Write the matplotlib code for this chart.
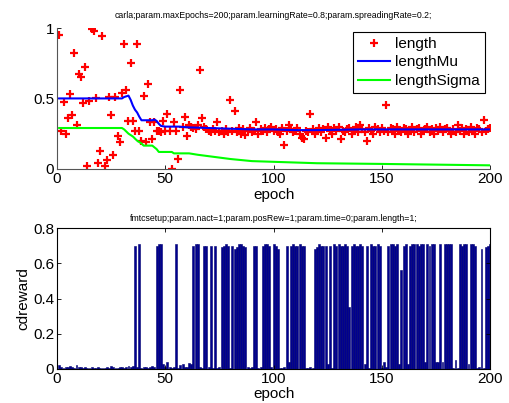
import numpy as np
import matplotlib
matplotlib.use('Agg')
from matplotlib import pyplot as plt

plt.rcParams['font.family'] = ['Liberation Sans', 'DejaVu Sans']

# epochs 1..200
epochs = list(range(1, 201))

# top: sampled length per epoch
length = [
    0.95, 0.27, 0.475, 0.25, 0.36, 0.53, 0.38, 0.82, 0.31, 0.67,
    0.65, 0.47, 0.72, 0.02, 0.48, 0.99, 0.98, 0.50, 0.04, 0.13,
    0.94, 0.02, 0.06, 0.51, 0.38, 0.10, 0.51, 0.23, 0.19, 0.54,
    0.89, 0.56, 0.34, 0.75, 0.34, 0.27, 0.89, 0.27, 0.20, 0.52,
    0.19, 0.60, 0.33, 0.21, 0.33, 0.27, 0.27, 0.26, 0.34, 0.27,
    0.39, 0.27, 0.00, 0.33, 0.27, 0.07, 0.56, 0.30, 0.37, 0.23,
    0.31, 0.30, 0.29, 0.28, 0.31, 0.70, 0.36, 0.30, 0.28, 0.27,
    0.26, 0.28, 0.27, 0.33, 0.26, 0.27, 0.25, 0.28, 0.26, 0.49,
    0.27, 0.41, 0.26, 0.29, 0.25, 0.28, 0.24, 0.27, 0.29, 0.26,
    0.27, 0.33, 0.25, 0.28, 0.27, 0.29, 0.26, 0.28, 0.30, 0.27,
    0.28, 0.26, 0.25, 0.29, 0.17, 0.27, 0.31, 0.28, 0.26, 0.27,
    0.29, 0.25, 0.22, 0.21, 0.27, 0.26, 0.39, 0.28, 0.25, 0.27,
    0.29, 0.26, 0.28, 0.22, 0.30, 0.27, 0.25, 0.29, 0.27, 0.30,
    0.21, 0.27, 0.26, 0.28, 0.29, 0.25, 0.27, 0.30, 0.26, 0.31,
    0.28, 0.26, 0.20, 0.29, 0.27, 0.25, 0.30, 0.28, 0.26, 0.29,
    0.27, 0.45, 0.26, 0.29, 0.28, 0.25, 0.30, 0.27, 0.26, 0.29,
    0.28, 0.25, 0.27, 0.30, 0.26, 0.28, 0.29, 0.25, 0.27, 0.28,
    0.30, 0.26, 0.28, 0.25, 0.29, 0.27, 0.30, 0.26, 0.28, 0.29,
    0.27, 0.25, 0.28, 0.26, 0.31, 0.27, 0.29, 0.25, 0.28, 0.26,
    0.30, 0.27, 0.25, 0.29, 0.28, 0.26, 0.35, 0.27, 0.28, 0.29,
]

# lengthMu / lengthSigma vertices (epoch, value)
mu_epochs = [1, 30, 31, 33, 34, 35, 36, 37, 38, 39, 44, 45, 46, 47, 48, 50, 56, 60, 70, 80, 90, 100, 110, 120, 140, 160, 180, 200]
mu_values = [0.50, 0.50, 0.51, 0.52, 0.49, 0.45, 0.42, 0.40, 0.37, 0.345, 0.345, 0.35, 0.34, 0.32, 0.305, 0.30, 0.30, 0.295, 0.29, 0.285, 0.28, 0.28, 0.275, 0.275, 0.28, 0.28, 0.28, 0.28]

sigma_epochs = [1, 30, 31, 33, 35, 37, 39, 40, 44, 46, 47, 53, 54, 61, 65, 70, 80, 90, 100, 120, 150, 200]
sigma_values = [0.29, 0.29, 0.28, 0.25, 0.23, 0.20, 0.18, 0.165, 0.165, 0.14, 0.12, 0.12, 0.11, 0.11, 0.10, 0.09, 0.07, 0.055, 0.05, 0.04, 0.035, 0.025]

# bottom: cdreward per epoch
cdreward = [
    0.02, 0.01, 0.005, 0.01, 0.01, 0.015, 0.01, 0.005, 0.02, 0.01,
    0.01, 0.005, 0.01, 0.005, 0.005, 0.01, 0.005, 0.005, 0.01, 0.005,
    0.005, 0.005, 0.01, 0.005, 0.015, 0.01, 0.005, 0.005, 0.01, 0.01,
    0.005, 0.01, 0.015, 0.01, 0.015, 0.70, 0.01, 0.71, 0.005, 0.01,
    0.01, 0.005, 0.01, 0.015, 0.01, 0.70, 0.71, 0.71, 0.03, 0.01,
    0.04, 0.01, 0.005, 0.01, 0.71, 0.005, 0.02, 0.03, 0.01, 0.01,
    0.035, 0.03, 0.70, 0.71, 0.71, 0.01, 0.005, 0.70, 0.70, 0.01,
    0.70, 0.005, 0.70, 0.005, 0.01, 0.69, 0.70, 0.71, 0.70, 0.005,
    0.70, 0.68, 0.69, 0.71, 0.71, 0.70, 0.69, 0.01, 0.005, 0.01,
    0.70, 0.70, 0.005, 0.01, 0.70, 0.71, 0.71, 0.70, 0.01, 0.71,
    0.70, 0.68, 0.005, 0.005, 0.01, 0.70, 0.04, 0.70, 0.71, 0.70,
    0.70, 0.71, 0.70, 0.70, 0.005, 0.005, 0.01, 0.005, 0.68, 0.69,
    0.71, 0.70, 0.70, 0.70, 0.03, 0.70, 0.005, 0.71, 0.70, 0.71,
    0.70, 0.70, 0.71, 0.70, 0.35, 0.70, 0.71, 0.70, 0.70, 0.71,
    0.70, 0.03, 0.70, 0.005, 0.71, 0.70, 0.70, 0.71, 0.70, 0.005,
    0.04, 0.01, 0.70, 0.71, 0.71, 0.70, 0.71, 0.03, 0.56, 0.70,
    0.71, 0.03, 0.70, 0.71, 0.71, 0.71, 0.70, 0.71, 0.71, 0.04,
    0.71, 0.70, 0.71, 0.71, 0.04, 0.04, 0.71, 0.04, 0.71, 0.71,
    0.71, 0.71, 0.005, 0.05, 0.005, 0.71, 0.70, 0.71, 0.71, 0.03,
    0.71, 0.71, 0.70, 0.005, 0.01, 0.68, 0.005, 0.69, 0.70, 0.71,
]

top_title = 'carla;param.maxEpochs=200;param.learningRate=0.8;param.spreadingRate=0.2;'
bottom_title = 'fmtcsetup;param.nact=1;param.posRew=1;param.time=0;param.length=1;'

fig = plt.figure(figsize=(5.09, 4.03), dpi=100, facecolor='white')

# ---- top panel ----
ax1 = fig.add_axes([0.112, 0.581, 0.851, 0.3495])
ax1.plot(epochs, length, '+', color='#ff0000', markersize=5.5, markeredgewidth=1.6, label='length')
ax1.plot(mu_epochs, mu_values, color='#0000ff', lw=1.5, label='lengthMu')
ax1.plot(sigma_epochs, sigma_values, color='#00ff00', lw=1.5, label='lengthSigma')
ax1.set_xlim(0, 200)
ax1.set_ylim(0, 1)
ax1.set_xticks([0, 50, 100, 150, 200])
ax1.set_yticks([0, 0.5, 1])
ax1.set_yticklabels(['0', '0.5', '1'])
ax1.spines['top'].set_visible(False)
ax1.spines['right'].set_visible(False)
for s in ['left', 'bottom']:
    ax1.spines[s].set_color('#555555')
    ax1.spines[s].set_linewidth(0.8)
ax1.tick_params(direction='in', length=3, labelsize=11, width=0.6, pad=2)
ax1.set_xlabel('epoch', fontsize=11, labelpad=2)
ax1.set_title(top_title, fontsize=6.3, pad=7)
leg = ax1.legend(loc='upper right', bbox_to_anchor=(0.988, 0.975), borderaxespad=0,
                 fontsize=11, fancybox=False, framealpha=1, edgecolor='black',
                 handlelength=2.1, handletextpad=0.3, labelspacing=0.3, borderpad=0.35)
leg.get_frame().set_linewidth(0.8)

# ---- bottom panel ----
ax2 = fig.add_axes([0.112, 0.0844, 0.851, 0.3496])
ax2.bar(epochs, cdreward, width=0.9, color='#00008f', edgecolor='#000070', linewidth=0.4)
ax2.set_xlim(0, 200)
ax2.set_ylim(0, 0.8)
ax2.set_xticks([0, 50, 100, 150, 200])
ax2.set_yticks([0, 0.2, 0.4, 0.6, 0.8])
ax2.set_yticklabels(['0', '0.2', '0.4', '0.6', '0.8'])
for s in ax2.spines.values():
    s.set_color('black')
    s.set_linewidth(0.8)
ax2.tick_params(direction='in', length=3, labelsize=11, width=0.6, pad=2, top=True, right=True)
ax2.set_xlabel('epoch', fontsize=11, labelpad=1)
ax2.set_ylabel('cdreward', fontsize=11, labelpad=2)
ax2.set_title(bottom_title, fontsize=6.3, pad=5)

fig.savefig('out.png', dpi=100, facecolor='white')
